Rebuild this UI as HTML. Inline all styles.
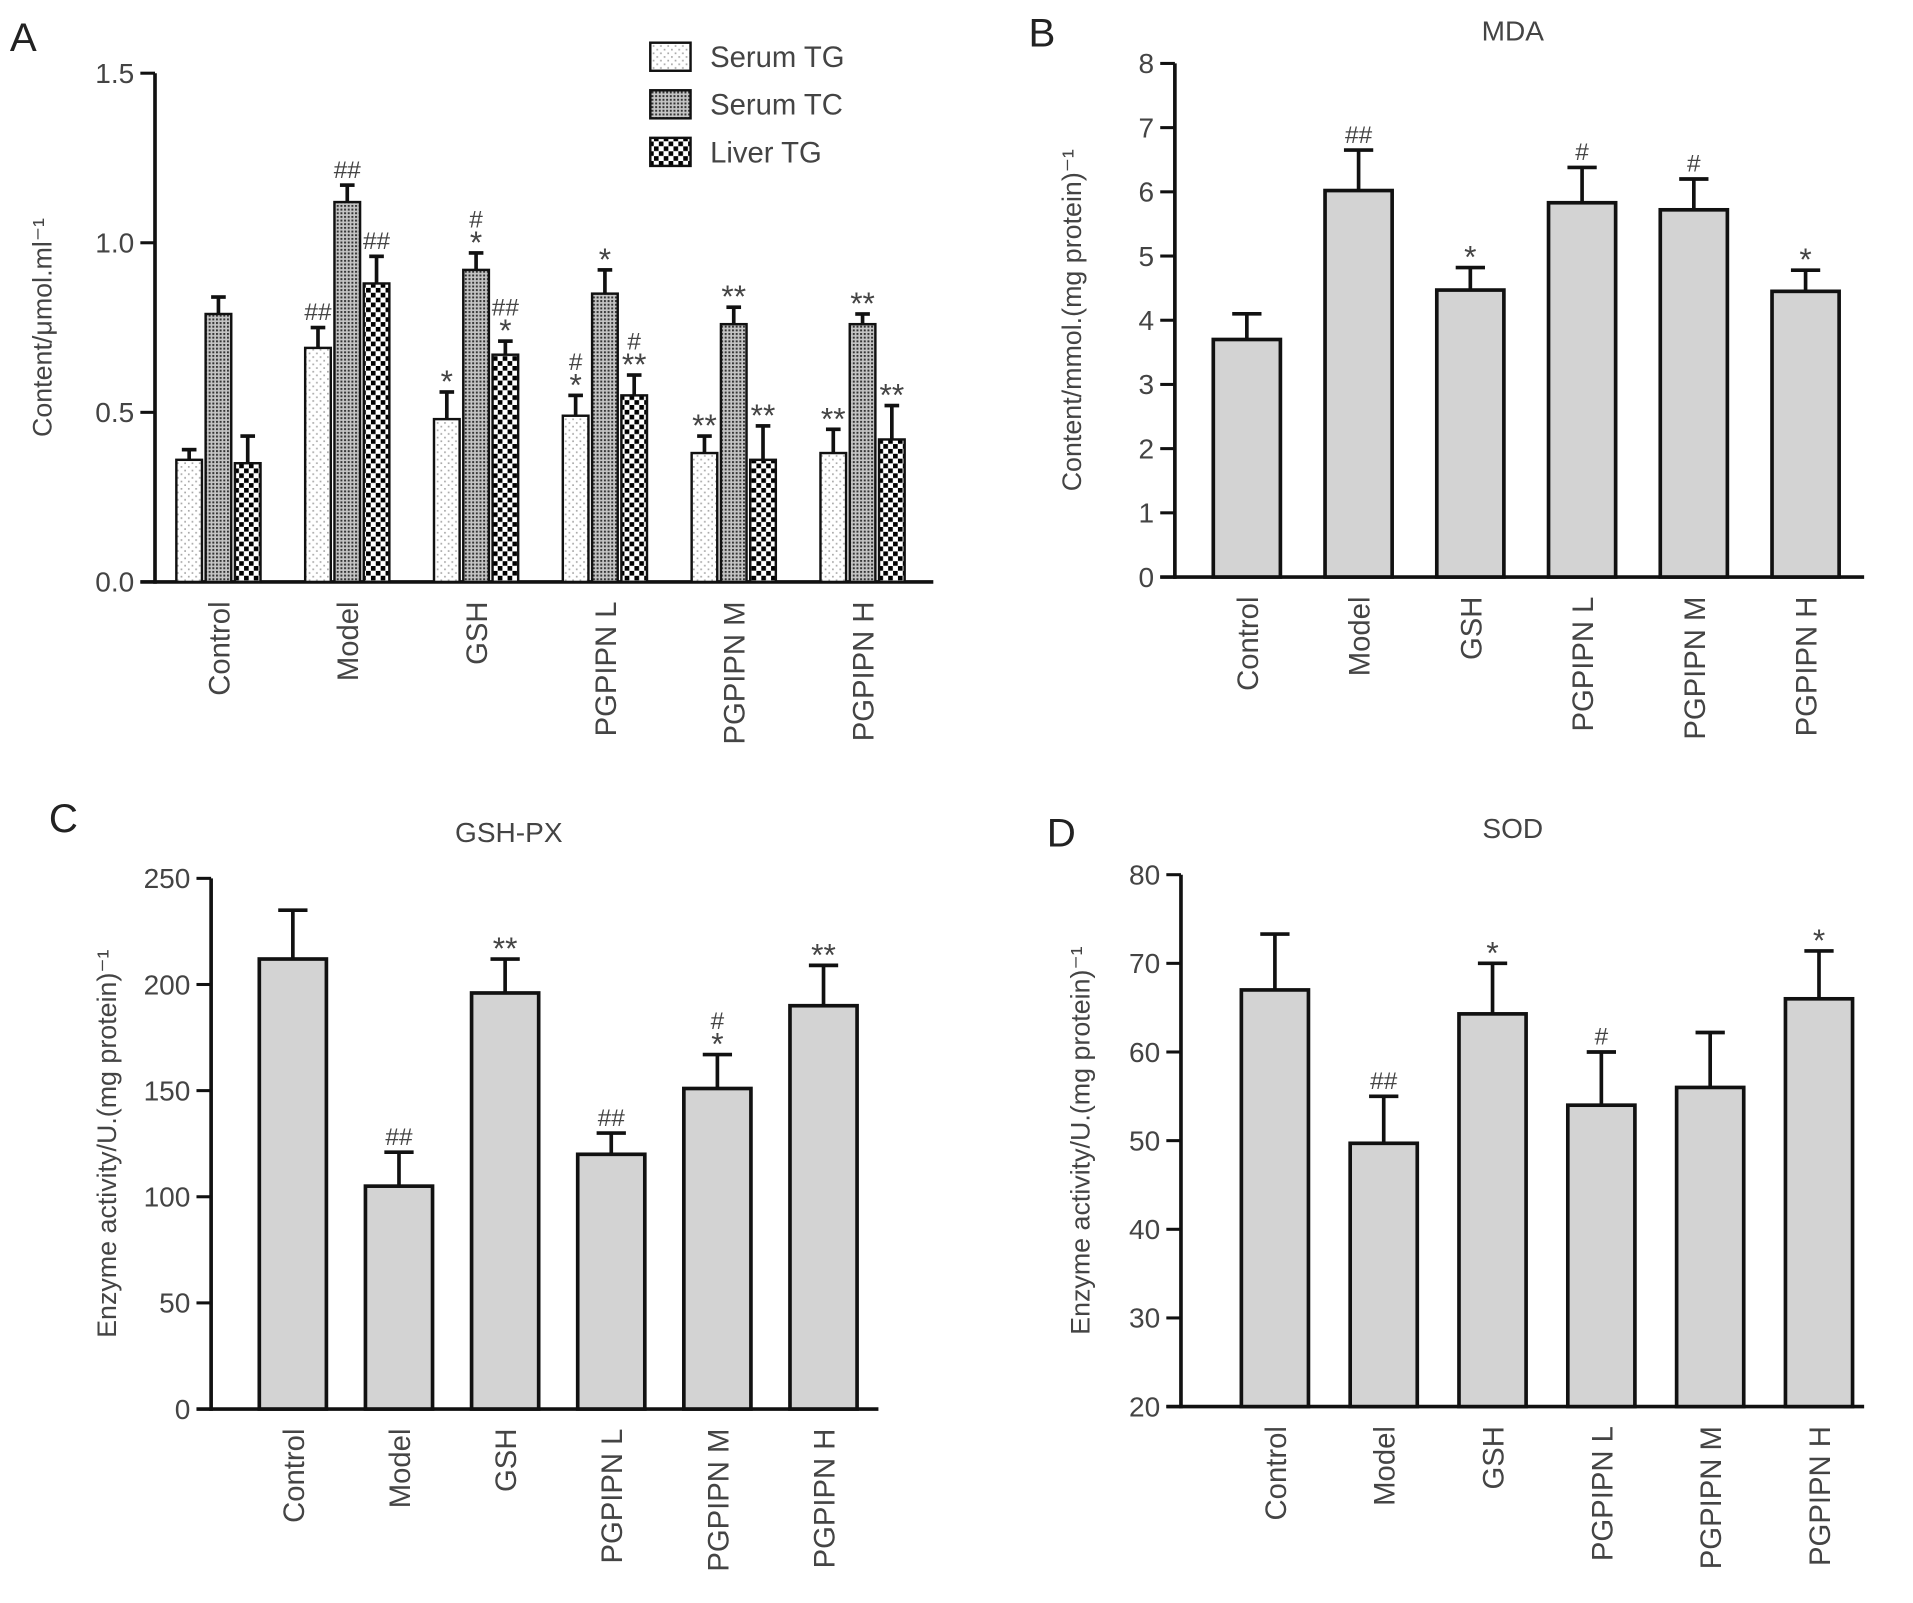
<!DOCTYPE html>
<html><head><meta charset="utf-8"><style>
html,body{margin:0;padding:0;background:#fff;}
svg{display:block;font-family:"Liberation Sans",sans-serif;}
</style></head><body>
<svg id="fig" width="1913" height="1603" viewBox="0 0 1568 1314" xmlns="http://www.w3.org/2000/svg">
<defs>
<pattern id="pDots" width="6" height="6" patternUnits="userSpaceOnUse"><rect width="6" height="6" fill="#fff"/><rect x="1" y="1" width="1.4" height="1.4" fill="#aaa"/><rect x="4" y="4" width="1.4" height="1.4" fill="#aaa"/></pattern>
<pattern id="pCross" width="3" height="3" patternUnits="userSpaceOnUse"><rect width="3" height="3" fill="#c4c4c4"/><rect x="0" y="0" width="1.6" height="1.6" fill="#333"/></pattern>
<pattern id="pCheck" width="8" height="8" patternUnits="userSpaceOnUse"><rect width="8" height="8" fill="#fff"/><rect x="0" y="0" width="3.8" height="3.8" fill="#000"/><rect x="4" y="4" width="3.8" height="3.8" fill="#000"/></pattern>
</defs>
</svg>
<script>
const categories=["Control","Model","GSH","PGPIPN L","PGPIPN M","PGPIPN H"];
// Panel A
const aSeriesNames=["Serum TG","Serum TC","Liver TG"];
const aSerumTG=[0.36,0.69,0.48,0.49,0.38,0.38];
const aSerumTGErr=[0.39,0.75,0.56,0.55,0.43,0.45];
const aSerumTC=[0.79,1.12,0.92,0.85,0.76,0.76];
const aSerumTCErr=[0.84,1.17,0.97,0.92,0.81,0.79];
const aLiverTG=[0.35,0.88,0.67,0.55,0.36,0.42];
const aLiverTGErr=[0.43,0.96,0.71,0.61,0.46,0.52];
const aSerumTGMarks=["","##","*","#\n*","**","**"];
const aSerumTCMarks=["","##","#\n*","*","**","**"];
const aLiverTGMarks=["","##","##\n*","#\n**","**","**"];
const aTicks=["0.0","0.5","1.0","1.5"];
// Panel B
const mdaValues=[3.7,6.02,4.47,5.83,5.72,4.45];
const mdaErr=[4.1,6.65,4.82,6.38,6.2,4.78];
const mdaMarks=["","##","*","#","#","*"];
const mdaTicks=["0","1","2","3","4","5","6","7","8"];
// Panel C
const gpxValues=[212,105,196,120,151,190];
const gpxErr=[235,121,212,130,167,209];
const gpxMarks=["","##","**","##","#\n*","**"];
const gpxTicks=["0","50","100","150","200","250"];
// Panel D
const sodValues=[67,49.7,64.3,54,56,66];
const sodErr=[73.3,55,70,60,62.2,71.4];
const sodMarks=["","##","*","#","","*"];
const sodTicks=["20","30","40","50","60","70","80"];

const svg=document.getElementById('fig');
const NS="http://www.w3.org/2000/svg";
function mk(tag,attrs,parent){const e=document.createElementNS(NS,tag);for(const k in attrs)e.setAttribute(k,attrs[k]);(parent||svg).appendChild(e);return e;}
function txt(s,x,y,size,anchor,parent,extra){const t=mk('text',Object.assign({x:x,y:y,'font-size':size,'text-anchor':anchor||'middle',fill:'#333'},extra||{}),parent);t.textContent=s;return t;}
function marks(str,x,yTop,g){const lines=str.split("\n").reverse();let y=yTop-6;for(const l of lines){const isStar=l.indexOf('*')>=0;const t=txt(l,x,isStar?y+6:y,isStar?26:20,'middle',g,{fill:'#444'});y-=isStar?15:22;}}

function panel(o){
  const g=mk('g',{});
  
  
  const ymap=v=>o.y0-(v-o.vmin)/(o.vmax-o.vmin)*(o.y0-o.y1);
  const ya=mk('line',{x1:o.ax,y1:o.y1,x2:o.ax,y2:o.y0+1.5,stroke:'#111','stroke-width':3},g);
  
  const xa=mk('line',{x1:o.ax-12,y1:o.y0,x2:o.xend,y2:o.y0,stroke:'#111','stroke-width':3},g);
  
  o.ticks.forEach(tk=>{const v=parseFloat(tk);const y=ymap(v);
    mk('line',{x1:o.ax-12,y1:y,x2:o.ax,y2:y,stroke:'#111','stroke-width':2.5},g);
    const t=txt(tk,o.ax-17,y+8,23,'end',g,{fill:'#444'});});
  const yt=txt(o.ytitle,0,0,22,'middle',g,{fill:'#444',transform:`translate(${o.ytx},${(o.y0+o.y1)/2}) rotate(-90)`});
  
  if(o.title){const tt=txt(o.title,o.titleX,o.titleY,23,'middle',g,{fill:'#444'});}
  const pl=txt(o.letter,o.lx,o.ly,33,'start',g,{fill:'#222'});
  categories.forEach((c,i)=>{const cx=o.c0+i*o.step;
    const t=txt(c,0,0,24,'end',g,{fill:'#444',transform:`translate(${cx+9},${o.y0+16}) rotate(-90)`});
    
    o.series.forEach((s,k)=>{
      const bx=cx+(k-(o.series.length-1)/2)*o.bgap-o.bw/2;
      const yv=ymap(s.vals[i]),ye=ymap(s.err[i]),bxc=bx+o.bw/2;
      const el=mk('line',{x1:bxc,y1:yv,x2:bxc,y2:ye,stroke:'#111','stroke-width':3},g);
      
      const cap=mk('line',{x1:bxc-o.cap,y1:ye,x2:bxc+o.cap,y2:ye,stroke:'#111','stroke-width':3},g);
      
      const r=mk('rect',{x:bx,y:yv,width:o.bw,height:o.y0-yv,fill:s.fill,stroke:'#111','stroke-width':o.sw},g);
      
      if(s.marks[i])marks(s.marks[i],bxc,ye,g);
    });
  });
  return g;
}
panel({name:'panel-a-lipids',letter:'A',lx:8,ly:42,ax:127,xend:765,y0:477,y1:60,vmin:0,vmax:1.5,ticks:aTicks,ytx:42,ytitle:'Content/μmol.ml⁻¹',
  c0:179,step:105.6,bw:21,bgap:24,cap:6,sw:2,
  series:[{vals:aSerumTG,err:aSerumTGErr,marks:aSerumTGMarks,fill:'url(#pDots)'},{vals:aSerumTC,err:aSerumTCErr,marks:aSerumTCMarks,fill:'url(#pCross)'},{vals:aLiverTG,err:aLiverTGErr,marks:aLiverTGMarks,fill:'url(#pCheck)'}]});
panel({name:'panel-b-mda',letter:'B',lx:843,ly:38,ax:963,xend:1528,y0:473,y1:52,vmin:0,vmax:8,ticks:mdaTicks,ytx:886,ytitle:'Content/mmol.(mg protein)⁻¹',title:'MDA',titleX:1240,titleY:33,
  c0:1022,step:91.6,bw:55,bgap:0,cap:12,sw:3,series:[{vals:mdaValues,err:mdaErr,marks:mdaMarks,fill:'#d3d3d3'}]});
panel({name:'panel-c-gsh-px',letter:'C',lx:40,ly:682,ax:173,xend:720,y0:1155,y1:720,vmin:0,vmax:250,ticks:gpxTicks,ytx:95,ytitle:'Enzyme activity/U.(mg protein)⁻¹',title:'GSH-PX',titleX:417,titleY:690,
  c0:240,step:87,bw:55,bgap:0,cap:12,sw:3,series:[{vals:gpxValues,err:gpxErr,marks:gpxMarks,fill:'#d3d3d3'}]});
panel({name:'panel-d-sod',letter:'D',lx:858,ly:694,ax:968,xend:1528,y0:1153,y1:717,vmin:20,vmax:80,ticks:sodTicks,ytx:893,ytitle:'Enzyme activity/U.(mg protein)⁻¹',title:'SOD',titleX:1240,titleY:687,
  c0:1045,step:89.2,bw:55,bgap:0,cap:12,sw:3,series:[{vals:sodValues,err:sodErr,marks:sodMarks,fill:'#d3d3d3'}]});
const lg=mk('g',{});


const legFills=['url(#pDots)','url(#pCross)','url(#pCheck)'];
aSeriesNames.forEach((n,i)=>{const y=35+i*39;
  const r=mk('rect',{x:533,y:y,width:33,height:23,fill:legFills[i],stroke:'#111','stroke-width':2},lg);
  
  const t=txt(n,582,y+20,24,'start',lg,{fill:'#444'});
  });
</script>
</body></html>
